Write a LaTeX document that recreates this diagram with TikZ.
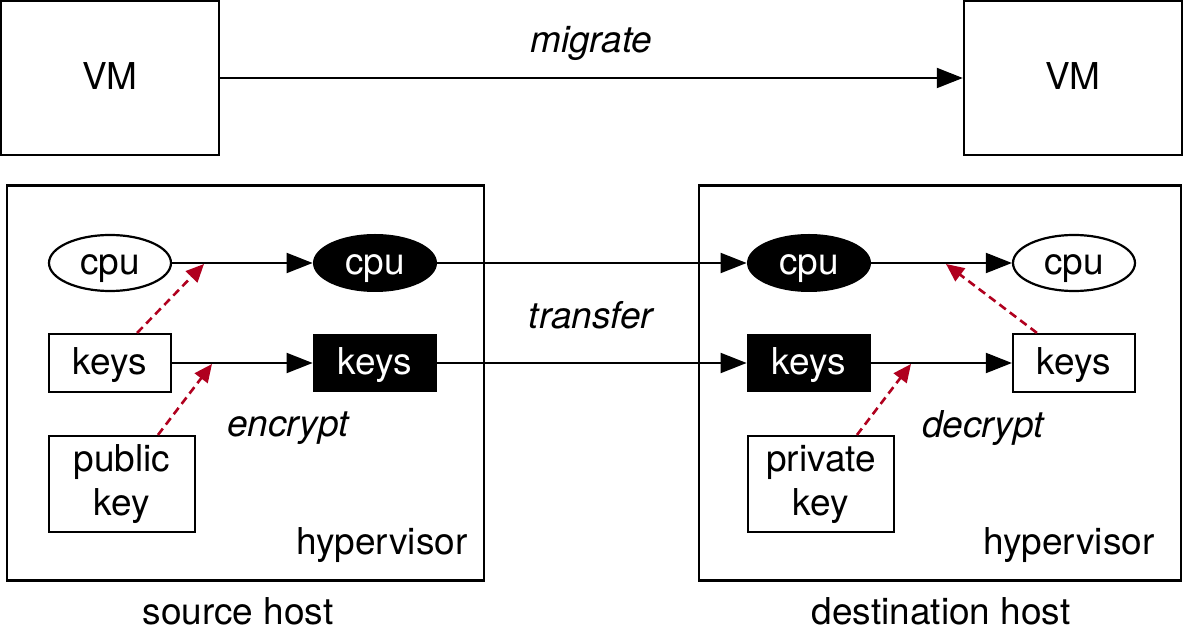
\documentclass[tikz,border=0pt]{standalone}
\usepackage{fontspec}
\setmainfont{TeX Gyre Heros}
\usetikzlibrary{arrows.meta,shapes.geometric}
\definecolor{dred}{RGB}{176,0,30}
\begin{document}
\begin{tikzpicture}[x=0.5pt,y=-0.5pt,
  every node/.style={font=\fontsize{18.5pt}{22pt}\selectfont, inner sep=0pt},
  oneline/.style={text height=13pt, text depth=1pt},
  frame/.style={draw, line width=1.2pt},
  wbox/.style={draw, line width=1.1pt, minimum width=61pt, minimum height=29pt},
  bbox/.style={fill=black, text=white, minimum width=62pt, minimum height=29pt, oneline},
  well/.style={draw, ellipse, line width=1.1pt, minimum width=61pt, minimum height=28pt, oneline},
  bell/.style={fill=black, ellipse, text=white, minimum width=62pt, minimum height=29pt, oneline},
  conn/.style={line width=1pt, -{Triangle[length=13pt,width=10pt]}},
  rconn/.style={dred, line width=1.3pt, dash pattern=on 4pt off 2.5pt, -{Triangle[length=9pt,width=8pt]}},
  lbl/.style={font=\fontsize{18.5pt}{22pt}\selectfont\itshape}]
\useasboundingbox (0,0) rectangle (1184,630);
% VMs
\node[frame, oneline, minimum width=109pt, minimum height=77pt] (vm1) at (110,78) {VM};
\node[frame, oneline, minimum width=109pt, minimum height=77pt] (vm2) at (1073,78) {VM};
\draw[conn] (vm1.east) -- (vm2.west) node[midway, above=8pt, lbl] (mig) {migrate};
% host frames
\node[frame, minimum width=238.5pt, minimum height=197.5pt] (src) at (245.5,383) {};
\node[frame, minimum width=241pt, minimum height=197.5pt] (dst) at (940,383) {};
\node (srcl) at (238,611) {source host};
\node (dstl) at (941,611) {destination host};
\node (hv1) at (382,545) {hypervisor};
\node (hv2) at (1069,545) {hypervisor};
% source
\node[well] (c1) at (110,263) {cpu};
\node[bell] (c2) at (375,263) {cpu};
\node[wbox, oneline] (k1) at (110,363) {keys};
\node[bbox] (k2) at (375,363) {keys};
\node[wbox, minimum width=73pt, minimum height=48pt, align=center] (pk) at (122,484) {public\\key};
\node[lbl] (enc) at (288,428) {encrypt};
% destination
\node[bell] (c3) at (809,263) {cpu};
\node[well] (c4) at (1074,263) {cpu};
\node[bbox] (k3) at (809,363) {keys};
\node[wbox, oneline] (k4) at (1074,363) {keys};
\node[wbox, minimum width=73pt, minimum height=48pt, align=center] (prk) at (821,484) {private\\key};
\node[lbl] (dec) at (983,428) {decrypt};
\node[lbl] (tr) at (591,315) {transfer};
% connectors
\draw[conn] (c1) -- (c2);
\draw[conn] (k1) -- (k2);
\draw[conn] (c2) -- (c3);
\draw[conn] (k2) -- (k3);
\draw[conn] (c3) -- (c4);
\draw[conn] (k3) -- (k4);
% red dashed
\coordinate (e1) at (204,264);
\coordinate (e2) at (212,364);
\coordinate (d1) at (946,264);
\coordinate (d2) at (911,364);
\draw[rconn] (k1.north east) ++(-35,0) coordinate (k1s) -- (e1);
\draw[rconn] (pk.north) ++(36,0) coordinate (pks) -- (e2);
\draw[rconn] (k4.north west) ++(25,0) coordinate (k4s) -- (d1);
\draw[rconn] (prk.north) ++(36,0) coordinate (prks) -- (d2);
\end{tikzpicture}
\end{document}
